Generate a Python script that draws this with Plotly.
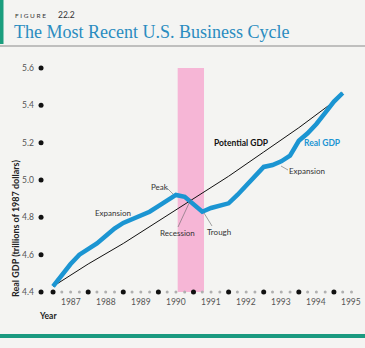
import plotly.graph_objects as go

# ---------------- data ----------------
quarters = [1987 + i * 0.25 for i in range(34)]  # 1987Q1 .. 1995Q2
real_gdp = [4.43, 4.49, 4.55, 4.60, 4.63, 4.66, 4.70, 4.74,
            4.77, 4.79, 4.81, 4.83, 4.86, 4.89, 4.92, 4.91,
            4.87, 4.83, 4.85, 4.86, 4.875, 4.92, 4.97, 5.02,
            5.07, 5.08, 5.10, 5.13, 5.21, 5.25, 5.30, 5.36,
            5.42, 5.466]
pot_years = [1987, 1988, 1989, 1990, 1991, 1992, 1993, 1994, 1995, 1995.25]
potential_gdp = [4.43, 4.55, 4.66, 4.78, 4.90, 5.02, 5.15, 5.28, 5.42, 5.466]
recession = [1990.55, 1991.3]
year_labels = ["1987", "1988", "1989", "1990", "1991", "1992", "1993", "1994", "1995"]
year_pos = [1987.5 + i for i in range(9)]
y_ticks = [4.4, 4.6, 4.8, 5.0, 5.2, 5.4, 5.6]
y_tick_labels = ["4.4", "4.6", "4.8", "5.0", "5.2", "5.4", "5.6"]

# ---------------- layout geometry ----------------
W, H = 365, 348
L, R, T, B = 39, 10, 60, 48
XR = [1986.6, 1995.6]
YR = [4.4 - 8 / 186.7, 5.6 + 8 / 186.7]
PW, PH = W - L - R, H - T - B

def xp(px):
    return (px - L) / PW

def yp(py):
    return (H - B - py) / PH

BLUE = "#1b95d2"
GRAY_TXT = "#555555"
FONT = "Lato"

fig = go.Figure()

# recession band
fig.add_shape(type="rect", x0=recession[0], x1=recession[1], y0=4.4, y1=5.6,
              xref="x", yref="y", fillcolor="#f6b6d6", line_width=0, layer="below")

# potential GDP
fig.add_trace(go.Scatter(x=pot_years, y=potential_gdp, mode="lines",
                         line=dict(color="#111111", width=1), hoverinfo="skip"))
# real GDP
fig.add_trace(go.Scatter(x=quarters, y=real_gdp, mode="lines",
                         line=dict(color=BLUE, width=4.5), hoverinfo="skip"))

# x-axis dots (quarters small gray, years big black)
qx = [1987 + i * 0.25 for i in range(36)]
small = [q for q in qx if abs(q - round(q)) > 1e-9]
big = [q for q in qx if abs(q - round(q)) < 1e-9]
fig.add_trace(go.Scatter(x=small, y=[4.4] * len(small), mode="markers",
                         marker=dict(color="#b0b0b0", size=3), cliponaxis=False, hoverinfo="skip"))
fig.add_trace(go.Scatter(x=big, y=[4.4] * len(big), mode="markers",
                         marker=dict(color="#111111", size=5), cliponaxis=False, hoverinfo="skip"))
# y-axis dots
ydot_x = 1987 - 12 / 35.1
fig.add_trace(go.Scatter(x=[ydot_x] * len(y_ticks), y=y_ticks, mode="markers",
                         marker=dict(color="#111111", size=5), cliponaxis=False, hoverinfo="skip"))

ann = []
# y tick labels
for v, t in zip(y_ticks, y_tick_labels):
    ann.append(dict(x=xp(36), xref="paper", y=v, yref="y", text=t,
                    xanchor="right", yanchor="middle",
                    showarrow=False, font=dict(family=FONT, size=8.5, color=GRAY_TXT)))
# year labels
for xv, t in zip(year_pos, year_labels):
    ann.append(dict(x=xv, xref="x", y=yp(302), yref="paper", text=t, showarrow=False,
                    xanchor="center", yanchor="middle",
                    font=dict(family=FONT, size=8.5, color=GRAY_TXT)))
ann.append(dict(x=xp(48), xref="paper", y=yp(316), yref="paper", text="<b>Year</b>",
                xanchor="center", yanchor="middle",
                showarrow=False, font=dict(family=FONT, size=8.5, color="#222")))
ann.append(dict(x=xp(15), xref="paper", y=yp(229), yref="paper",
                text="<b>Real GDP (trillions of 1987 dollars)</b>", textangle=-90,
                xanchor="center", yanchor="middle",
                showarrow=False, font=dict(family=FONT, size=9, color="#222")))

# in-chart labels
def lab(px, py, text, color="#333", bold=False, size=8):
    t = f"<b>{text}</b>" if bold else text
    ann.append(dict(x=xp(px), xref="paper", y=yp(py), yref="paper", text=t,
                    xanchor="center", yanchor="middle",
                    showarrow=False, font=dict(family=FONT, size=size, color=color)))

lab(241, 143, "Potential GDP", "#111", True, 8.5)
lab(322, 143, "Real GDP", BLUE, True, 8.5)
lab(307, 171, "Expansion")
lab(219, 232, "Trough")
lab(177, 233, "Recession")
lab(160, 187, "Peak")
lab(113, 213, "Expansion")

# leader lines (paper coords)
for (x0, y0, x1, y1) in [(281, 166, 288, 170), (204, 213, 212, 226),
                         (191, 199, 178, 227), (167, 188, 173, 194)]:
    fig.add_shape(type="line", xref="paper", yref="paper", x0=xp(x0), y0=yp(y0),
                  x1=xp(x1), y1=yp(y1), line=dict(color="#666", width=0.6))

# header
ann.append(dict(x=xp(13), xref="paper", y=yp(15), yref="paper", text="F I G U R E",
                xanchor="left", yanchor="middle", showarrow=False,
                font=dict(family=FONT, size=6.5, color="#333")))
ann.append(dict(x=xp(56), xref="paper", y=yp(15), yref="paper", text="22.2",
                xanchor="left", yanchor="middle", showarrow=False,
                font=dict(family=FONT, size=8.5, color="#333")))
ann.append(dict(x=xp(12), xref="paper", y=yp(32), yref="paper",
                text="The Most Recent U.S. Business Cycle", xanchor="left", yanchor="middle",
                showarrow=False,
                font=dict(family="Liberation Serif", size=18, color="#2a8cc0")))

fig.add_shape(type="rect", xref="paper", yref="paper", x0=xp(0), x1=xp(3.5), y0=yp(44), y1=yp(0),
              fillcolor="#1a9e7e", line_width=0)
fig.add_shape(type="line", xref="paper", yref="paper", x0=xp(0), x1=xp(365), y0=yp(46), y1=yp(46),
              line=dict(color="#8a8a8a", width=1))
fig.add_shape(type="rect", xref="paper", yref="paper", x0=xp(0), x1=xp(365), y0=yp(338), y1=yp(334),
              fillcolor="#1b9a80", line_width=0)

fig.update_layout(
    width=W, height=H, margin=dict(l=L, r=R, t=T, b=B),
    paper_bgcolor="#f4f4f2", plot_bgcolor="#f4f4f2",
    showlegend=False, annotations=ann,
    xaxis=dict(range=XR, visible=False, fixedrange=True),
    yaxis=dict(range=YR, visible=False, fixedrange=True),
)

fig.write_html("out.html", config={"displayModeBar": False})
